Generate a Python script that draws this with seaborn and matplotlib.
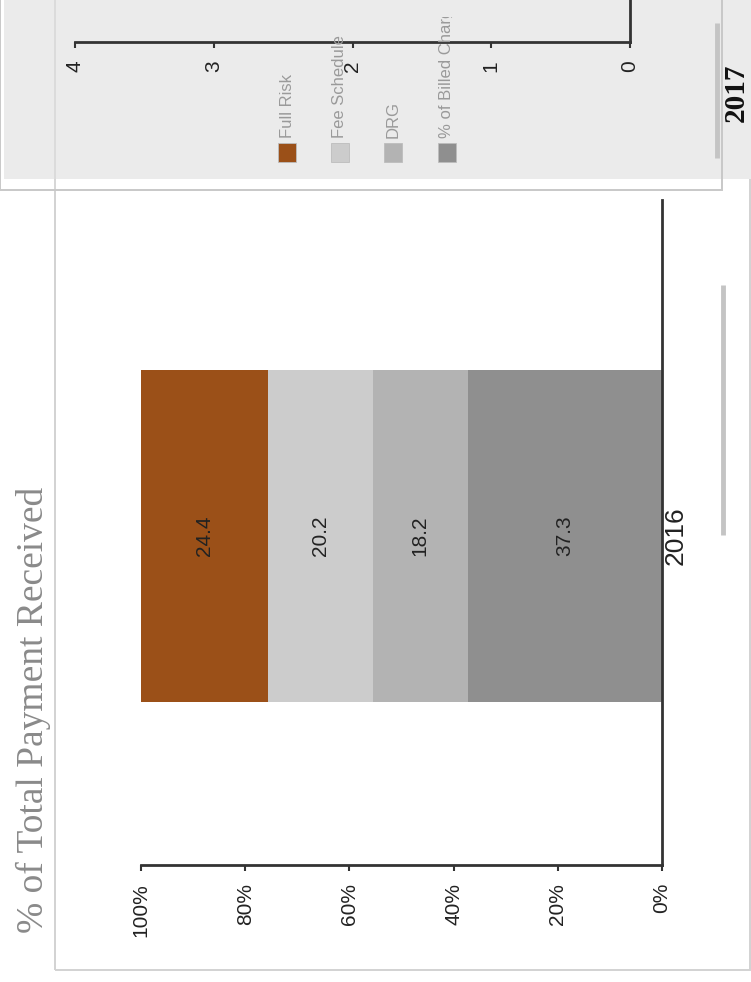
import matplotlib
matplotlib.use("Agg")
import matplotlib.pyplot as plt
from matplotlib.patches import Rectangle
from matplotlib.lines import Line2D
import seaborn as sns
import numpy as np
import pandas as pd

# ---- data ----
years = ["2016"]
segments = ["% of Billed Charges", "DRG", "Fee Schedule", "Full Risk"]   # stacked from 0%
values_2016 = [37.3, 18.2, 20.2, 24.4]
seg_colors = ["#8f8f8f", "#b3b3b3", "#cccccc", "#9b5018"]
legend_order = ["Full Risk", "Fee Schedule", "DRG", "% of Billed Charges"]
pct_ticks = [0, 20, 40, 60, 80, 100]
pct_labels = ["0%", "20%", "40%", "60%", "80%", "100%"]
top_ticks = [0, 1, 2, 3, 4]
top_labels = ["0", "1", "2", "3", "4"]
title = "% of Total Payment Received"
second_year = "2017"

sns.set_theme(style="white")
plt.rcParams["font.family"] = ["Liberation Sans", "DejaVu Sans"]

W, H = 751, 982
fig = plt.figure(figsize=(W / 100, H / 100), dpi=100)
fig.patch.set_facecolor("white")

def fx(x):
    return x / W

def fy(y):
    return 1 - y / H

# ---- main frame ----
fig.patches.append(Rectangle((fx(55), fy(970)), fx(750) - fx(55), fy(0) - fy(970) + 0.01,
                             transform=fig.transFigure, fill=False, edgecolor="#d2d2d2",
                             linewidth=1.4, zorder=0))

# ---- main axes (rotated stacked bar) ----
ax = fig.add_axes([fx(141), fy(865), fx(662) - fx(141), fy(200) - fy(865)])
ax.set_facecolor("none")
df = pd.DataFrame({"year": years * len(segments), "segment": segments, "value": values_2016})
df["cum"] = df["value"].cumsum()
for i in range(len(df) - 1, -1, -1):
    row = df.iloc[i]
    sns.barplot(x=[row["cum"]], y=[row["year"]], orient="h", color=seg_colors[i],
                saturation=1, width=0.8, ax=ax, linewidth=0)
for i in range(len(df)):
    row = df.iloc[i]
    ax.text(row["cum"] - row["value"] / 2, 0.0, f"{row['value']:.1f}", rotation=90,
            ha="center", va="center", fontsize=15, color="#222222")
ax.set_xlim(100, 0)
ax.set_ylim(0.793, -0.81)
ax.set_xticks(pct_ticks)
ax.set_xticklabels(pct_labels, rotation=90, fontsize=15, color="#222222")
ax.tick_params(axis="x", direction="out", length=4, width=1.5, pad=9, color="#333333", bottom=True)
ax.yaxis.tick_right()
ax.set_yticks([0])
ax.set_yticklabels(years, rotation=90, fontsize=19, color="#222222", va="center")
ax.tick_params(axis="y", length=0, pad=1)
for s in ["top", "left"]:
    ax.spines[s].set_visible(False)
for s in ["bottom", "right"]:
    ax.spines[s].set_color("#333333")
    ax.spines[s].set_linewidth(2)
ax.set_xlabel("")
ax.set_ylabel("")

# title
fig.text(fx(33), fy(710), title, rotation=90, ha="center", va="center",
         family=["Liberation Serif", "DejaVu Serif"], fontsize=27, color="#8a8a8a")

# main scrollbar
fig.lines.append(Line2D([fx(723), fx(723)], [fy(285), fy(535)], transform=fig.transFigure,
                        color="#c4c4c4", linewidth=3.5, solid_capstyle="butt"))

# ---- top overlay panel ----
fig.patches.append(Rectangle((fx(4), fy(179)), fx(751) - fx(4), fy(0) - fy(179) + 0.01,
                             transform=fig.transFigure, facecolor="#ebebeb", edgecolor="none",
                             zorder=1))
fig.patches.append(Rectangle((fx(0), fy(190)), fx(722) - fx(0), fy(0) - fy(190) + 0.01,
                             transform=fig.transFigure, fill=False, edgecolor="#c8c8c8",
                             linewidth=1.4, zorder=2))
fig.lines.append(Line2D([fx(55), fx(55)], [fy(0), fy(190)], transform=fig.transFigure,
                        color="#d8d8d8", linewidth=1.2, zorder=2))

ax2 = fig.add_axes([fx(75), fy(42), fx(630) - fx(75), 0.3], zorder=3)
ax2.set_facecolor("none")
ax2.set_xlim(4, 0)
ax2.set_ylim(0, 1)
ax2.set_xticks(top_ticks)
ax2.set_xticklabels(top_labels, rotation=90, fontsize=15, color="#222222")
ax2.tick_params(axis="x", direction="out", length=4, width=1.5, pad=9, color="#333333", bottom=True)
ax2.set_yticks([])
for s in ["top", "left"]:
    ax2.spines[s].set_visible(False)
for s in ["bottom", "right"]:
    ax2.spines[s].set_color("#333333")
    ax2.spines[s].set_linewidth(2)

# legend (rotated, manual, clipped like the original)
axl = fig.add_axes([fx(270), fy(170), fx(470) - fx(270), fy(17) - fy(170)], zorder=4)
axl.set_facecolor("none")
axl.set_axis_off()
axl.set_xlim(270, 470)
axl.set_ylim(170, 17)
color_of = dict(zip(segments, seg_colors))
leg_x = [287, 340, 393, 447]
for xc, name in zip(leg_x, legend_order):
    axl.add_patch(Rectangle((xc - 9, 143), 18, 19, facecolor=color_of[name],
                            edgecolor="#bdbdbd", linewidth=0.6, clip_on=True))
    axl.text(xc, 138, name, rotation=90, ha="center", va="bottom", fontsize=12,
             color="#9a9a9a", clip_on=True)

# second category label and scrollbar
fig.text(fx(736), fy(93), second_year, rotation=90, ha="center", va="center",
         family=["Liberation Serif", "DejaVu Serif"], fontweight="bold", fontsize=21,
         color="#111111", zorder=5)
fig.lines.append(Line2D([fx(717), fx(717)], [fy(23), fy(158)], transform=fig.transFigure,
                        color="#c4c4c4", linewidth=3.5, solid_capstyle="butt", zorder=5))

fig.savefig("out.png", dpi=100)
